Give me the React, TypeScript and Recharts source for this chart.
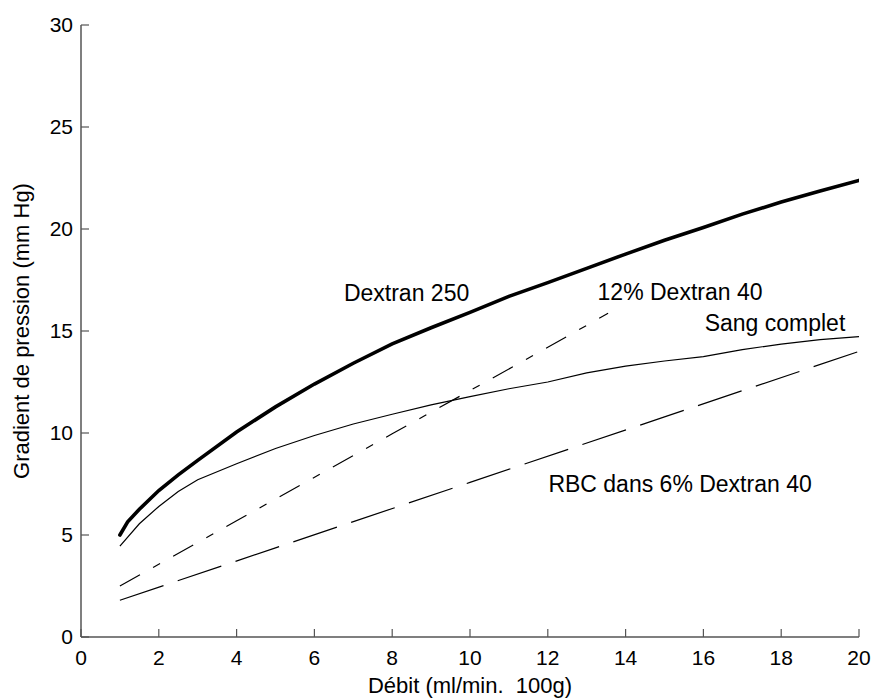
import { LineChart, Line, XAxis, YAxis, ReferenceDot } from 'recharts';

// Dextran 250 (thick curve)
const d250Flow = [1, 1.2, 1.5, 2, 2.5, 3, 4, 5, 6, 7, 8, 9, 10, 11, 12, 13, 14, 15, 16, 17, 18, 19, 20];
const d250Press = [5.0, 5.65, 6.26, 7.18, 7.95, 8.66, 10.05, 11.28, 12.4, 13.42, 14.37, 15.16, 15.91, 16.7, 17.37, 18.07, 18.77, 19.45, 20.07, 20.73, 21.32, 21.86, 22.38];

// Sang complet (thin solid)
const bloodFlow = [1, 1.5, 2, 2.5, 3, 4, 5, 6, 7, 8, 9, 10, 11, 12, 13, 14, 15, 16, 17, 18, 19, 20];
const bloodPress = [4.45, 5.55, 6.4, 7.13, 7.71, 8.49, 9.24, 9.88, 10.44, 10.92, 11.38, 11.78, 12.17, 12.5, 12.95, 13.28, 13.53, 13.74, 14.09, 14.36, 14.58, 14.72];

// 12% Dextran 40 (dash-dot)
const d40Flow = [1, 4, 8, 12, 13.55];
const d40Press = [2.5, 5.7, 9.96, 14.2, 15.87];

// RBC dans 6% Dextran 40 (long dash)
const rbcFlow = [1, 5, 10, 15, 20];
const rbcPress = [1.8, 4.37, 7.58, 10.79, 14.0];

const xTicks = [0, 2, 4, 6, 8, 10, 12, 14, 16, 18, 20];
const yTicks = [0, 5, 10, 15, 20, 25, 30];

const annotations = [
  { text: 'Dextran 250', x: 8.37, y: 16.86 },
  { text: '12% Dextran 40', x: 15.4, y: 16.94 },
  { text: 'Sang complet', x: 17.84, y: 15.39 },
  { text: 'RBC dans 6% Dextran 40', x: 15.4, y: 7.5 },
];

const FONT = "'Liberation Sans', Arial, Helvetica, sans-serif";

const toPoints = (xs: number[], ys: number[]) => xs.map((x, i) => ({ x, y: ys[i] }));

const YLabel = ({ viewBox }: any) => {
  const tx = viewBox.x + 29;
  const ty = viewBox.y + viewBox.height / 2;
  return (
    <text
      x={tx}
      y={ty}
      transform={`rotate(-90 ${tx} ${ty})`}
      textAnchor="middle"
      fontSize={22}
      fontFamily={FONT}
      fill="#000"
    >
      Gradient de pression (mm Hg)
    </text>
  );
};

const XLabel = ({ viewBox }: any) => {
  const tx = viewBox.x + viewBox.width / 2;
  const ty = viewBox.y + 56;
  return (
    <text x={tx} y={ty} textAnchor="middle" fontSize={22} fontFamily={FONT} fill="#000">
      {'Débit (ml/min.\u00a0 100g)'}
    </text>
  );
};

export default function App() {
  return (
    <div style={{ position: 'absolute', left: 0, top: 0, background: '#fff' }}>
      <LineChart
        width={874}
        height={700}
        margin={{ top: 25, right: 15, left: 0, bottom: 0 }}
        style={{ fontFamily: FONT }}
      >
        <XAxis
          type="number"
          dataKey="x"
          domain={[0, 20]}
          ticks={xTicks}
          height={63}
          tickSize={-8}
          tickMargin={21}
          axisLine={{ stroke: '#555', strokeWidth: 1.5 }}
          tickLine={{ stroke: '#555', strokeWidth: 1.2 }}
          tick={{ fill: '#000', fontSize: 21, fontFamily: FONT }}
          label={<XLabel />}
          allowDataOverflow
        />
        <YAxis
          type="number"
          domain={[0, 30]}
          ticks={yTicks}
          width={81}
          tickSize={-8}
          tickMargin={16}
          axisLine={{ stroke: '#555', strokeWidth: 1.5 }}
          tickLine={{ stroke: '#555', strokeWidth: 1.2 }}
          tick={{ fill: '#000', fontSize: 21, fontFamily: FONT }}
          label={<YLabel />}
          allowDataOverflow
        />
        <Line
          data={toPoints(rbcFlow, rbcPress)}
          dataKey="y"
          type="linear"
          stroke="#000"
          strokeWidth={1.2}
          strokeDasharray="46 15"
          dot={false}
          isAnimationActive={false}
        />
        <Line
          data={toPoints(d40Flow, d40Press)}
          dataKey="y"
          type="linear"
          stroke="#000"
          strokeWidth={1.2}
          strokeDasharray="23 15 8 15"
          dot={false}
          isAnimationActive={false}
        />
        <Line
          data={toPoints(bloodFlow, bloodPress)}
          dataKey="y"
          type="linear"
          stroke="#000"
          strokeWidth={1.2}
          dot={false}
          isAnimationActive={false}
        />
        <Line
          data={toPoints(d250Flow, d250Press)}
          dataKey="y"
          type="linear"
          stroke="#000"
          strokeWidth={3.6}
          strokeLinecap="round"
          dot={false}
          isAnimationActive={false}
        />
        {annotations.map((a) => (
          <ReferenceDot
            key={a.text}
            x={a.x}
            y={a.y}
            r={0}
            fill="none"
            stroke="none"
            label={{
              value: a.text,
              position: 'center',
              fill: '#000',
              fontSize: 23,
              fontFamily: FONT,
            }}
          />
        ))}
      </LineChart>
    </div>
  );
}
